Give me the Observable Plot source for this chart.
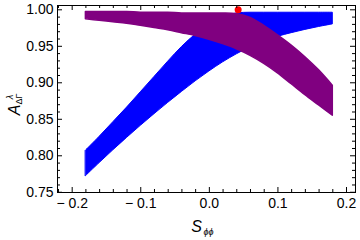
<!DOCTYPE html>
<html><head><meta charset="utf-8">
<script src="https://cdn.jsdelivr.net/npm/d3@7"></script>
<script src="https://cdn.jsdelivr.net/npm/@observablehq/plot@0.6"></script>
<style>body{margin:0;background:#fff}</style>
</head><body><div id="chart"></div>
<script>
// S_phiphi sample positions
const sPhiPhi    = [-0.18,-0.16,-0.14,-0.12,-0.10,-0.08,-0.06,-0.04,-0.02,0.00,0.02,0.04,0.06,0.08,0.10,0.12,0.14,0.16,0.18];
// blue band (lower / upper edge)
const blueLow    = [0.772,0.790,0.8075,0.8245,0.841,0.857,0.8725,0.8875,0.902,0.9155,0.928,0.939,0.9485,0.9565,0.963,0.968,0.9725,0.9765,0.980];
const blueHigh   = [0.807,0.826,0.846,0.866,0.887,0.908,0.929,0.949,0.966,0.980,0.990,0.995,0.996,0.996,0.996,0.996,0.996,0.996,0.996];
// purple band (lower / upper edge)
const purpleLow  = [0.987,0.985,0.983,0.981,0.978,0.975,0.972,0.968,0.964,0.959,0.953,0.946,0.937,0.926,0.913,0.898,0.883,0.869,0.855];
const purpleHigh = [0.997,0.997,0.997,0.997,0.996,0.996,0.996,0.995,0.995,0.995,0.995,0.994,0.989,0.978,0.965,0.951,0.935,0.917,0.896];
// reference point
const pointX = [0.042];
const pointY = [1.0];
// ticks
const xMajor = [-0.2,-0.1,0.0,0.1,0.2];
const xLabels = ["\u2212 0.2","\u2212 0.1","0.0","0.1","0.2"];
const yMajor = [0.75,0.80,0.85,0.90,0.95,1.00];
const yLabels = ["0.75","0.80","0.85","0.90","0.95","1.00"];

const xDomain = [-0.2214, 0.2131];
const yDomain = [0.7497, 1.0059];
const xMinor = d3.range(-22, 22, 2).map(v => v / 100).filter(v => v >= xDomain[0] && v <= xDomain[1] && Math.abs(v * 10 - Math.round(v * 10)) > 1e-6);
const yMinor = d3.range(75, 101, 1).map(v => v / 100).filter(v => Math.abs(v * 20 - Math.round(v * 20)) > 1e-6);

const bands = sPhiPhi.map((x, i) => ({x, blo: blueLow[i], bhi: blueHigh[i], plo: purpleLow[i], phi: purpleHigh[i]}));
const points = pointX.map((x, i) => ({x, y: pointY[i]}));

const W = 360, H = 240, mL = 57, mR = 5, mT = 5, mB = 48;
const fH = H - mT - mB, fW = W - mL - mR;
const maj = 5, mnr = 3;

const svg = Plot.plot({
  width: W, height: H,
  marginLeft: mL, marginRight: mR, marginTop: mT, marginBottom: mB,
  x: {domain: xDomain, axis: null},
  y: {domain: yDomain, axis: null},
  style: {fontFamily: "'Liberation Sans', Arial, sans-serif", fontSize: "14px", color: "black", background: "white"},
  marks: [
    Plot.areaY(bands, {x: "x", y1: "blo", y2: "bhi", fill: "#0000ff", stroke: "#0000ff", strokeWidth: 1, strokeLinejoin: "round", curve: "catmull-rom"}),
    Plot.areaY(bands, {x: "x", y1: "plo", y2: "phi", fill: "#800080", stroke: "#800080", strokeWidth: 1.5, strokeLinejoin: "round", curve: "catmull-rom"}),
    Plot.dot(points, {x: "x", y: "y", r: 3.5, fill: "#ff0000"}),
    Plot.ruleX(xMajor, {insetTop: fH - maj, stroke: "black"}),
    Plot.ruleX(xMajor, {insetBottom: fH - maj, stroke: "black"}),
    Plot.ruleX(xMinor, {insetTop: fH - mnr, stroke: "black"}),
    Plot.ruleX(xMinor, {insetBottom: fH - mnr, stroke: "black"}),
    Plot.ruleY(yMajor, {insetRight: fW - maj, stroke: "black"}),
    Plot.ruleY(yMajor, {insetLeft: fW - maj, stroke: "black"}),
    Plot.ruleY(yMinor, {insetRight: fW - mnr, stroke: "black"}),
    Plot.ruleY(yMinor, {insetLeft: fW - mnr, stroke: "black"}),
    Plot.frame({stroke: "black"}),
    Plot.axisX(xMajor, {tickSize: 0, tickPadding: 6, fontSize: 14, label: null, tickFormat: d => xLabels[xMajor.indexOf(d)]}),
    Plot.axisY(yMajor, {tickSize: 0, tickPadding: 4, fontSize: 14, label: null, tickFormat: d => yLabels[yMajor.indexOf(d)]})
  ]
});
document.getElementById("chart").appendChild(svg);

const s = d3.select(svg);
// x axis label S_ϕϕ
const xl = s.append("g").attr("font-family", "'Liberation Sans', Arial, sans-serif").attr("fill", "black");
xl.append("text").attr("x", 196.5).attr("y", 232).attr("font-size", 16).attr("font-style", "italic").text("S");
xl.append("text").attr("x", 208.5).attr("y", 235).attr("font-size", 9).attr("font-style", "italic").text("\u03d5\u03d5");
// y axis label A^λ_ΔΓ
const yl = s.append("g").attr("transform", "translate(20,110) rotate(-90)")
  .attr("font-family", "'Liberation Sans', Arial, sans-serif").attr("fill", "black");
yl.append("text").attr("x", 0).attr("y", 0).attr("font-size", 16).attr("font-style", "italic").text("A");
yl.append("text").attr("x", 11).attr("y", 2).attr("font-size", 9).text("\u0394\u0393");
yl.append("text").attr("x", 13).attr("y", -7).attr("font-size", 9).attr("font-style", "italic").text("\u03bb");
</script>
</body></html>
